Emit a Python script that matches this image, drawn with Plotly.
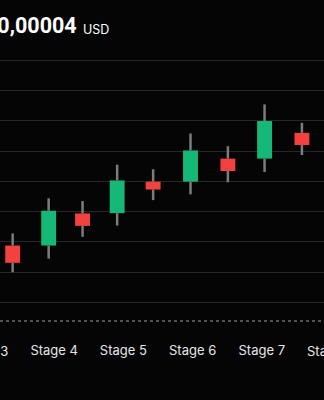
import plotly.graph_objects as go

# ---- data ----
candle_x = [3.40, 3.92, 4.41, 4.91, 5.43, 5.97, 6.51, 7.04, 7.58]   # position in stage units
opens  = [1.88, 1.88, 2.94, 2.95, 3.99, 3.99, 4.75, 4.75, 5.60]
closes = [1.31, 3.03, 2.53, 4.03, 3.73, 5.02, 4.34, 5.99, 5.20]
highs  = [2.28, 3.44, 3.35, 4.55, 4.40, 5.58, 5.16, 6.54, 5.93]
lows   = [1.00, 1.45, 2.17, 2.54, 3.38, 3.57, 3.97, 4.31, 4.87]

stage_vals = [3, 4, 5, 6, 7, 8]
stage_labels = ["Stage 3", "Stage 4", "Stage 5", "Stage 6", "Stage 7", "Stage 8"]
price_text = "$0,00004"
unit_text = "USD"

X_RANGE = [3.217, 7.899]
Y_RANGE = [-0.61, 8.5]

GREEN = "#16b878"
RED = "#f2413f"
WICK = "#7c7c7c"
BG = "#050505"
GRID = "#262626"
FONT = "Inter, Lato, sans-serif"
HEAD_FONT = "Roboto, Inter, sans-serif"

fig = go.Figure()

# wicks: drawn as two segments so they do not cross the body
wx, wy = [], []
for x, o, c, h, l in zip(candle_x, opens, closes, highs, lows):
    lo_b, hi_b = min(o, c), max(o, c)
    wx += [x, x, None, x, x, None]
    wy += [l, lo_b, None, hi_b, h, None]
fig.add_trace(go.Scatter(x=wx, y=wy, mode="lines",
                         line=dict(color=WICK, width=2.5),
                         hoverinfo="skip", showlegend=False))

# bodies
bases = [min(o, c) for o, c in zip(opens, closes)]
heights = [abs(c - o) for o, c in zip(opens, closes)]
colors = [GREEN if c >= o else RED for o, c in zip(opens, closes)]
fig.add_trace(go.Bar(x=candle_x, y=heights, base=bases, width=0.215,
                     marker=dict(color=colors, line=dict(width=0)),
                     showlegend=False))

fig.update_layout(
    width=324, height=400,
    margin=dict(l=0, r=0, t=45, b=79),
    paper_bgcolor=BG, plot_bgcolor=BG,
    barmode="overlay",
    font=dict(family=FONT, color="#e6e6e6", size=13),
    xaxis=dict(range=X_RANGE, tickvals=stage_vals, ticktext=stage_labels,
               showgrid=False, zeroline=False, showline=False,
               ticks="outside", ticklen=17, tickcolor="rgba(0,0,0,0)",
               tickfont=dict(size=13, color="#e6e6e6", family=FONT)),
    yaxis=dict(range=Y_RANGE, dtick=1, tick0=0, showticklabels=False,
               showgrid=True, gridcolor=GRID, gridwidth=1,
               zeroline=False, showline=False),
)

# dotted baseline at the bottom of the plot area
fig.add_shape(type="line", xref="paper", yref="paper", x0=0, x1=1, y0=0, y1=0,
              line=dict(color="#a0a0a0", width=1, dash="dot"))

# edge stage labels (partially outside the visible range)
span = X_RANGE[1] - X_RANGE[0]
for v, t in zip(stage_vals, stage_labels):
    if v < X_RANGE[0] or v > X_RANGE[1]:
        fig.add_annotation(x=(v - X_RANGE[0]) / span, y=0, xref="paper", yref="paper",
                           text=t, showarrow=False, xanchor="center", yanchor="top",
                           yshift=-20, font=dict(size=13, color="#e6e6e6", family=FONT))

# header price
fig.add_annotation(x=79 / 324, y=1.069, xref="paper", yref="paper",
                   text=f"<b>{price_text}</b>",
                   showarrow=False, xanchor="right", yanchor="middle",
                   font=dict(size=21.5, color="#ffffff", family=HEAD_FONT))
fig.add_annotation(x=81 / 324, y=1.057, xref="paper", yref="paper",
                   text=unit_text,
                   showarrow=False, xanchor="left", yanchor="middle",
                   font=dict(size=12.5, color="#ffffff", family=FONT))

fig.write_html("out.html")
